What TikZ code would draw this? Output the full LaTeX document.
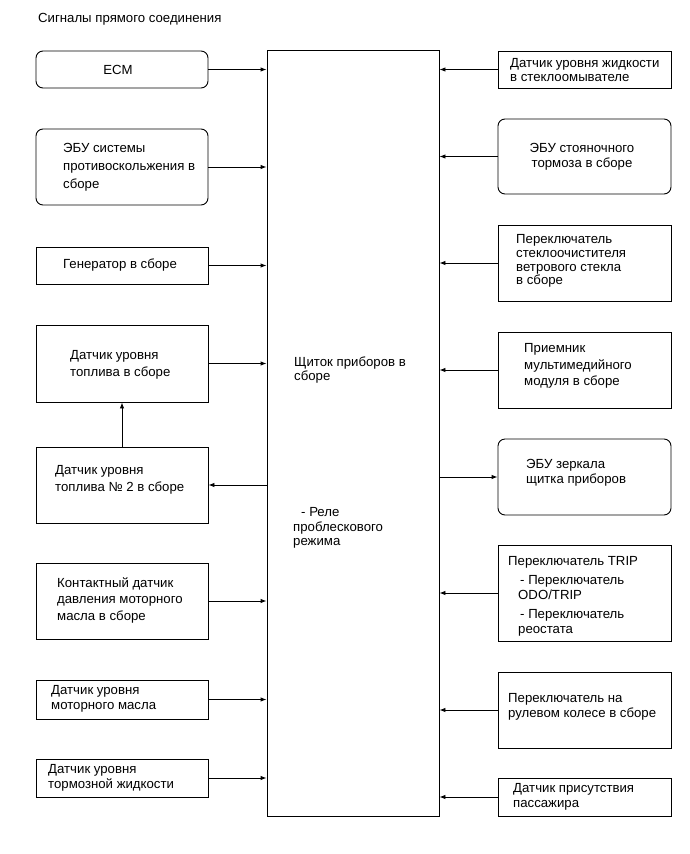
\documentclass[tikz,border=0pt]{standalone}
\usepackage{fontspec}
\setmainfont{Liberation Sans}
\usetikzlibrary{arrows.meta}
\tikzset{
  box/.style={draw, line width=0.9pt, minimum width=172pt, inner sep=0pt},
  rbox/.style={box, rounded corners=7pt},
  lbl/.style={anchor=west, align=left, inner sep=0pt, font=\fontsize{13.2}{14.5}\selectfont},
  lblw/.style={lbl, font=\fontsize{13.2}{16.5}\selectfont},
  clbl/.style={anchor=center, align=center, inner sep=0pt, font=\fontsize{13.2}{14.5}\selectfont},
  arr/.style={line width=0.9pt, -{Latex[length=6pt,width=4.5pt]}},
}
\begin{document}
\begin{tikzpicture}[x=1pt,y=-1pt]
\useasboundingbox (0,0) rectangle (690,854);
\node[anchor=base west, inner sep=0pt, font=\fontsize{13.2}{14.5}\selectfont] (title) at (38,22) {Сигналы прямого соединения};

% central box
\node[box, minimum width=172pt, minimum height=765.5pt] (ic) at (353,433.25) {};
\node[lbl] (ict) at (294,370) {Щиток приборов в\\сборе};
\node[lbl] (icr) at (293,528) {\hspace*{8pt}- Реле\\проблескового\\режима};

% left column
\node[rbox, minimum height=37pt] (ecm) at (122,69.5) {};
\node[clbl] at (118,70) {ECM};
\node[rbox, minimum height=76pt] (abs) at (122,167) {};
\node[lbl, font=\fontsize{13.2}{18}\selectfont] at (63,167) {ЭБУ системы\\противоскольжения в\\сборе};
\node[box, minimum height=37pt] (gen) at (122,265.5) {};
\node[lbl] at (63,265) {Генератор в сборе};
\node[box, minimum height=77pt] (fuel) at (122,363.5) {};
\node[lblw] at (70,365) {Датчик уровня\\топлива в сборе};
\node[box, minimum height=76pt] (fuel2) at (122,485) {};
\node[lblw] at (55,480) {Датчик уровня\\топлива № 2 в сборе};
\node[box, minimum height=76pt] (oilp) at (122,601) {};
\node[lblw] at (57,600) {Контактный датчик\\давления моторного\\масла в сборе};
\node[box, minimum height=39pt] (oill) at (122,699.5) {};
\node[lbl] at (51,699) {Датчик уровня\\моторного масла};
\node[box, minimum height=38pt] (brk) at (122,778) {};
\node[lbl] at (48,778) {Датчик уровня\\тормозной жидкости};

% right column
\node[box, minimum width=173pt, minimum height=37pt] (wash) at (584.5,69.5) {};
\node[lbl] at (510,70) {Датчик уровня жидкости\\в стеклоомывателе};
\node[rbox, minimum width=173pt, minimum height=75pt] (park) at (584.5,156.5) {};
\node[clbl] at (582,157) {ЭБУ стояночного\\тормоза в сборе};
\node[box, minimum width=173pt, minimum height=76pt] (wipe) at (584.5,263) {};
\node[lbl, font=\fontsize{13.2}{13.7}\selectfont] at (516,261) {Переключатель\\стеклоочистителя\\ветрового стекла\\в сборе};
\node[box, minimum width=173pt, minimum height=76pt] (media) at (584.5,370) {};
\node[lblw] at (524,366) {Приемник\\мультимедийного\\модуля в сборе};
\node[rbox, minimum width=173pt, minimum height=76pt] (mirr) at (584.5,477) {};
\node[lbl] at (526,473) {ЭБУ зеркала\\щитка приборов};
\node[box, minimum width=173pt, minimum height=96pt] (trip) at (584.5,593) {};
\node[lbl] at (508,596) {Переключатель TRIP\\[5pt]\hspace*{12pt}- Переключатель\\\hspace*{10pt}ODO/TRIP\\[5pt]\hspace*{12pt}- Переключатель\\\hspace*{10pt}реостата};
\node[box, minimum width=173pt, minimum height=76pt] (steer) at (584.5,710) {};
\node[lbl] at (508,707) {Переключатель на\\рулевом колесе в сборе};
\node[box, minimum width=173pt, minimum height=38pt] (pass) at (584.5,797) {};
\node[lbl] at (513,797) {Датчик присутствия\\пассажира};

% connectors
\foreach \n in {ecm,abs,gen,fuel,oilp,oill,brk}
  \draw[arr] (\n.east) -- (\n.east -| ic.west);
\draw[arr] (fuel2.east -| ic.west) -- (fuel2.east);
\draw[arr] (fuel2.north) -- (fuel.south);
\foreach \n in {wash,park,wipe,media,trip,steer,pass}
  \draw[arr] (\n.west) -- (\n.west -| ic.east);
\draw[arr] (mirr.west -| ic.east) -- (mirr.west);
\end{tikzpicture}
\end{document}
